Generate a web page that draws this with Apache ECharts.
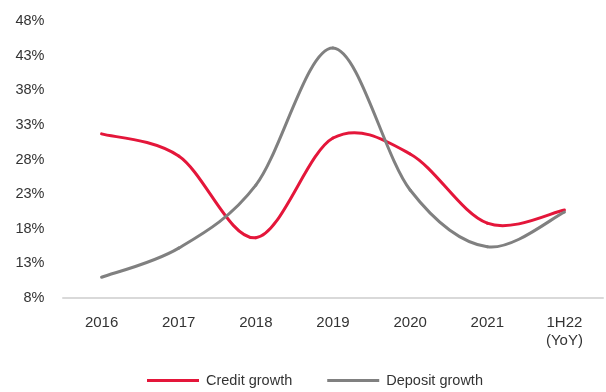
<!DOCTYPE html>
<html><head><meta charset="utf-8">
<script src="https://cdn.jsdelivr.net/npm/echarts@6/dist/echarts.min.js"></script>
<style>html,body{margin:0;padding:0;background:#fff}#c{width:606px;height:392px}</style>
</head><body><div id="c"></div>
<script>
var categories = ['2016','2017','2018','2019','2020','2021','1H22\n(YoY)'];
var creditGrowth = [31.7, 28.5, 16.7, 31.1, 28.8, 18.8, 20.7];
var depositGrowth = [11.0, 15.2, 24.3, 44.1, 23.6, 15.4, 20.4];
var yTicks = {min: 8, max: 48, interval: 5};

// Excel-like smoothed line (Catmull-Rom -> cubic Bezier), drawn through the axes via api.coord
function smoothSeries(name, values, color) {
  return {
    name: name, type: 'custom',
    data: values.map(function (v, i) { return [i, v]; }),
    encode: {x: 0, y: 1},
    itemStyle: {color: color},
    renderItem: function (params, api) {
      var i = params.dataIndex, n = values.length;
      if (i >= n - 1) return null;
      function pt(k) { k = Math.max(0, Math.min(n - 1, k)); return api.coord([k, values[k]]); }
      var p0 = pt(i - 1), p1 = pt(i), p2 = pt(i + 1), p3 = pt(i + 2);
      var c1 = [p1[0] + (p2[0] - p0[0]) / 6, p1[1] + (p2[1] - p0[1]) / 6];
      var c2 = [p2[0] - (p3[0] - p1[0]) / 6, p2[1] - (p3[1] - p1[1]) / 6];
      return {
        type: 'bezierCurve',
        shape: {x1: p1[0], y1: p1[1], cpx1: c1[0], cpy1: c1[1], cpx2: c2[0], cpy2: c2[1], x2: p2[0], y2: p2[1]},
        style: {stroke: color, lineWidth: 3, fill: null, lineCap: 'round'}
      };
    }
  };
}

var chart = echarts.init(document.getElementById('c'));
chart.setOption({
  animation: false,
  textStyle: {fontFamily: 'Liberation Sans, Arial, sans-serif'},
  grid: {left: 63, right: 3, top: 21, bottom: 94},
  xAxis: {
    type: 'category', data: categories, boundaryGap: true,
    axisLine: {lineStyle: {color: '#d9d9d9', width: 2}},
    axisTick: {show: false},
    axisLabel: {color: '#333', fontSize: 15, margin: 16, lineHeight: 18}
  },
  yAxis: {
    type: 'value', min: yTicks.min, max: yTicks.max, interval: yTicks.interval,
    splitLine: {show: false}, axisLine: {show: false}, axisTick: {show: false},
    axisLabel: {color: '#333', fontSize: 14.5, margin: 18.5, formatter: '{value}%'}
  },
  legend: {
    top: 368, left: 142, icon: 'rect', itemWidth: 52, itemHeight: 3, itemGap: 35,
    textStyle: {color: '#333', fontSize: 14.5, padding: [0, 0, 0, 2]},
    data: ['Credit growth', 'Deposit growth']
  },
  series: [
    smoothSeries('Credit growth', creditGrowth, '#e4163a'),
    smoothSeries('Deposit growth', depositGrowth, '#808080')
  ]
});
</script></body></html>
